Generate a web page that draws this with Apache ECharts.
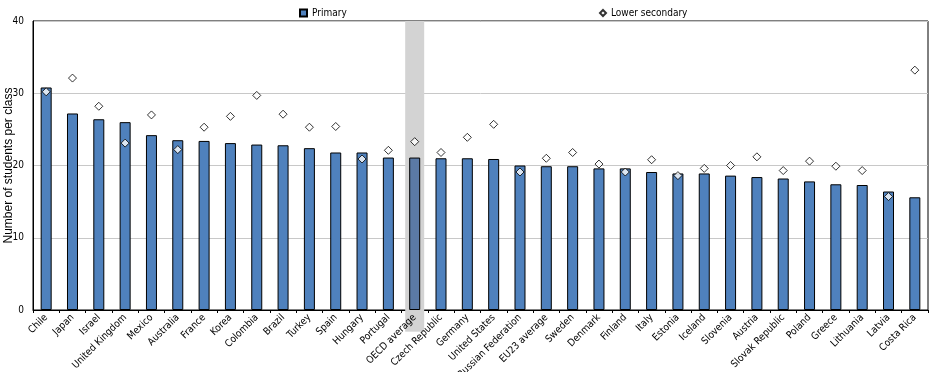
<!DOCTYPE html>
<html>
<head>
<meta charset="utf-8">
<script src="https://cdn.jsdelivr.net/npm/echarts@6/dist/echarts.min.js"></script>
<style>
html,body{margin:0;padding:0;background:#fff;}
#chart{width:934px;height:372px;}
</style>
</head>
<body>
<div id="chart"></div>
<script>
const categories = ['Chile','Japan','Israel','United Kingdom','Mexico','Australia','France','Korea','Colombia','Brazil','Turkey','Spain','Hungary','Portugal','OECD average','Czech Republic','Germany','United States','Russian Federation','EU23 average','Sweden','Denmark','Finland','Italy','Estonia','Iceland','Slovenia','Austria','Slovak Republic','Poland','Greece','Lithuania','Latvia','Costa Rica'];
const primary = [30.8,27.2,26.4,26.0,24.2,23.5,23.4,23.1,22.9,22.8,22.4,21.8,21.8,21.1,21.1,21.0,21.0,20.9,20.0,19.9,19.9,19.6,19.6,19.1,18.9,18.9,18.6,18.4,18.2,17.8,17.4,17.3,16.4,15.6];
const lowerSecondary = [30.2,32.1,28.2,23.1,27.0,22.2,25.3,26.8,29.7,27.1,25.3,25.4,20.9,22.1,23.3,21.8,23.9,25.7,19.1,21.0,21.8,20.2,19.1,20.8,18.6,19.6,20.0,21.2,19.3,20.6,19.9,19.3,15.7,33.2];
const highlighted = ['OECD average'];
const yTicks = [0,10,20,30,40];

const FONT = "'Liberation Sans Narrow','Arial Narrow','DejaVu Sans Condensed',Arial,sans-serif";
const BLUE = '#4f81bd';
const BLUE_HL = '#5b7aa6';

const primaryData = primary.map((v,i)=> highlighted.includes(categories[i])
  ? {value:v, itemStyle:{color:BLUE_HL}} : v);
const bandUp = categories.map(c => highlighted.includes(c) ? yTicks[yTicks.length-1] : null);
const bandDown = categories.map(c => highlighted.includes(c) ? -3 : null);

const chart = echarts.init(document.getElementById('chart'), null, {renderer:'canvas'});
chart.setOption({
  animation:false,
  textStyle:{fontFamily:FONT},
  legend:[
    {data:[{name:'Primary', icon:'rect'}], left:294, top:3, itemWidth:7, itemHeight:7, itemGap:4,
     textStyle:{fontFamily:FONT, fontSize:10, color:'#000'}},
    {data:[{name:'Lower secondary', icon:'diamond'}], left:594, top:3, itemWidth:6, itemHeight:6,
     textStyle:{fontFamily:FONT, fontSize:10, color:'#000'}}
  ],
  grid:{left:33, right:6, top:21, bottom:62, show:true, borderColor:'#000', borderWidth:1,
        containLabel:false, outerBoundsMode:'none'},
  xAxis:[
    {type:'category', data:categories, boundaryGap:true,
     axisLine:{lineStyle:{color:'#000', width:1}},
     axisTick:{show:true, length:3, lineStyle:{color:'#000'}},
     axisLabel:{interval:0, rotate:45, fontSize:10, color:'#000', fontFamily:FONT, margin:6},
     splitLine:{show:false}},
    {type:'category', data:categories, boundaryGap:true, show:false, position:'bottom'}
  ],
  yAxis:{type:'value', min:yTicks[0], max:yTicks[yTicks.length-1], interval:10,
    name:'Number of students per class', nameLocation:'middle', nameGap:18, nameRotate:90,
    nameMoveOverlap:false,
    nameTextStyle:{fontFamily:'Arial, Liberation Sans, sans-serif', fontSize:12, color:'#000'},
    axisLine:{show:true, lineStyle:{color:'#000'}},
    axisTick:{show:false},
    axisLabel:{fontSize:10, color:'#000', fontFamily:FONT, margin:9},
    splitLine:{show:true, lineStyle:{color:'#c8c8c8', width:1}}
  },
  series:[
    {name:'band', type:'bar', xAxisIndex:1, data:bandUp, stack:'band', barWidth:19, clip:false, silent:true, z:0,
     itemStyle:{color:'#d3d3d3'}},
    {name:'bandDown', type:'bar', xAxisIndex:1, data:bandDown, stack:'band', barWidth:19, clip:false, silent:true, z:0,
     itemStyle:{color:'#d3d3d3'}},
    {name:'Primary', type:'bar', xAxisIndex:0, data:primaryData, barWidth:11, z:2,
     itemStyle:{color:BLUE, borderColor:'#000', borderWidth:1}},
    {name:'Lower secondary', type:'scatter', xAxisIndex:0, data:lowerSecondary, symbol:'diamond', symbolSize:8, z:3,
     itemStyle:{color:'#fff', borderColor:'#000', borderWidth:1}}
  ]
});
</script>
</body>
</html>
